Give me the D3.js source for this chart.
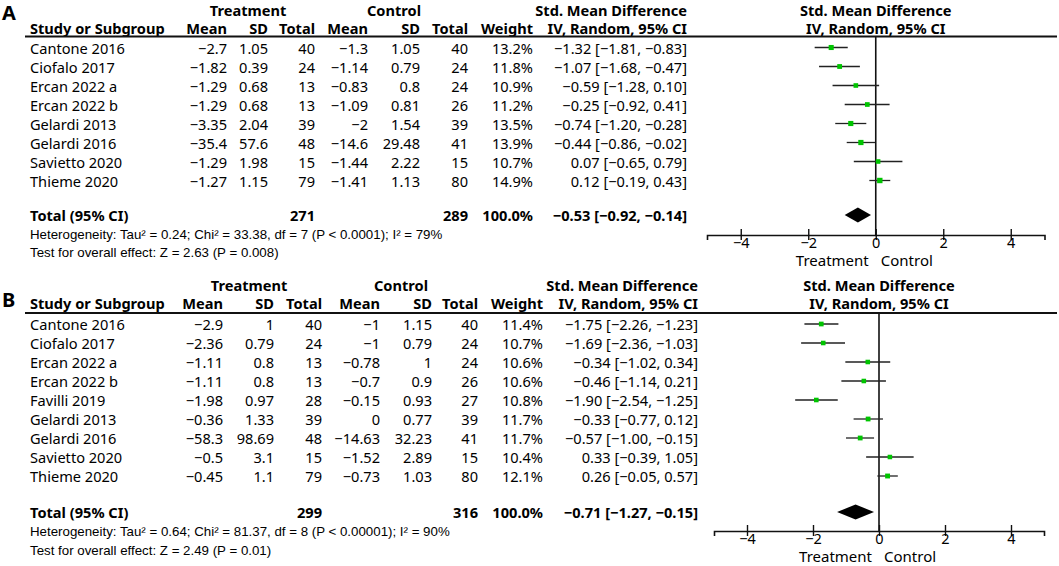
<!DOCTYPE html>
<html>
<head>
<meta charset="utf-8">
<script src="https://cdn.jsdelivr.net/npm/d3@7"></script>
<style>
  body { margin: 0; background: #fff; }
  text { font-family: "Noto Sans", "DejaVu Sans", sans-serif; fill: #000; }
  .note { font-family: "Liberation Sans", Arial, sans-serif; }
</style>
</head>
<body>
<div id="forest"></div>
<script>
// Panel A data
const studiesA = ["Cantone 2016", "Ciofalo 2017", "Ercan 2022 a", "Ercan 2022 b", "Gelardi 2013", "Gelardi 2016", "Savietto 2020", "Thieme 2020"];
const tMeanA = [-2.7, -1.82, -1.29, -1.29, -3.35, -35.4, -1.29, -1.27];
const tSdA = [1.05, 0.39, 0.68, 0.68, 2.04, 57.6, 1.98, 1.15];
const tNA = [40, 24, 13, 13, 39, 48, 15, 79];
const cMeanA = [-1.3, -1.14, -0.83, -1.09, -2, -14.6, -1.44, -1.41];
const cSdA = [1.05, 0.79, 0.8, 0.81, 1.54, 29.48, 2.22, 1.13];
const cNA = [40, 24, 24, 26, 39, 41, 15, 80];
const weightA = [13.2, 11.8, 10.9, 11.2, 13.5, 13.9, 10.7, 14.9];
const smdA = [-1.32, -1.07, -0.59, -0.25, -0.74, -0.44, 0.07, 0.12];
const loA = [-1.81, -1.68, -1.28, -0.92, -1.20, -0.86, -0.65, -0.19];
const hiA = [-0.83, -0.47, 0.10, 0.41, -0.28, -0.02, 0.79, 0.43];
const totalNA = [271, 289];
const totalCiA = [-0.53, -0.92, -0.14];
const hetA = "Heterogeneity: Tau² = 0.24; Chi² = 33.38, df = 7 (P < 0.0001); I² = 79%";
const testA = "Test for overall effect: Z = 2.63 (P = 0.008)";

// Panel B data
const studiesB = ["Cantone 2016", "Ciofalo 2017", "Ercan 2022 a", "Ercan 2022 b", "Favilli 2019", "Gelardi 2013", "Gelardi 2016", "Savietto 2020", "Thieme 2020"];
const tMeanB = [-2.9, -2.36, -1.11, -1.11, -1.98, -0.36, -58.3, -0.5, -0.45];
const tSdB = [1, 0.79, 0.8, 0.8, 0.97, 1.33, 98.69, 3.1, 1.1];
const tNB = [40, 24, 13, 13, 28, 39, 48, 15, 79];
const cMeanB = [-1, -1, -0.78, -0.7, -0.15, 0, -14.63, -1.52, -0.73];
const cSdB = [1.15, 0.79, 1, 0.9, 0.93, 0.77, 32.23, 2.89, 1.03];
const cNB = [40, 24, 24, 26, 27, 39, 41, 15, 80];
const weightB = [11.4, 10.7, 10.6, 10.6, 10.8, 11.7, 11.7, 10.4, 12.1];
const smdB = [-1.75, -1.69, -0.34, -0.46, -1.90, -0.33, -0.57, 0.33, 0.26];
const loB = [-2.26, -2.36, -1.02, -1.14, -2.54, -0.77, -1.00, -0.39, -0.05];
const hiB = [-1.23, -1.03, 0.34, 0.21, -1.25, 0.12, -0.15, 1.05, 0.57];
const totalNB = [299, 316];
const totalCiB = [-0.71, -1.27, -0.15];
const hetB = "Heterogeneity: Tau² = 0.64; Chi² = 81.37, df = 8 (P < 0.00001); I² = 90%";
const testB = "Test for overall effect: Z = 2.49 (P = 0.01)";

const axisTicks = [-4, -2, 0, 2, 4];
const xDomain = [-5, 5];

const width = 1059;
const height = 566;
const fs = 14.6; // table font size

const svg = d3.select("#forest")
  .append("svg")
  .attr("width", width)
  .attr("height", height);

const fmtNum = d3.format("");
const fmt2 = d3.format(".2f");
const fmtW = d3.format(".1f");

function drawPanel(p) {
  const g = svg.append("g");
  const n = p.studies.length;
  const c = p.cols;

  const x = d3.scaleLinear().domain(xDomain).range(p.plotRange);
  const y = d3.scaleLinear().domain([0, n - 1]).range([p.rowY0, p.rowY0 + p.rowStep * (n - 1)]);

  // panel letter
  g.append("text")
    .attr("x", 2).attr("y", p.letterY)
    .attr("font-family", "Liberation Sans, Arial, sans-serif")
    .attr("font-size", 20).attr("font-weight", "bold")
    .text(p.letter);

  // group headers
  const head = g.append("g").attr("font-weight", "bold").attr("font-size", fs);
  head.append("text").attr("x", p.treatX).attr("y", p.groupY).attr("text-anchor", "middle").text("Treatment");
  head.append("text").attr("x", p.ctrlX).attr("y", p.groupY).attr("text-anchor", "middle").text("Control");
  head.append("text").attr("x", c[7]).attr("y", p.groupY).attr("text-anchor", "end").text("Std. Mean Difference");
  head.append("text").attr("x", x(0)).attr("y", p.groupY).attr("text-anchor", "middle").text("Std. Mean Difference");

  head.append("text").attr("x", 30).attr("y", p.headY).text("Study or Subgroup");
  const colHeads = ["Mean", "SD", "Total", "Mean", "SD", "Total", "Weight", "IV, Random, 95% CI"];
  colHeads.forEach((h, i) => {
    head.append("text").attr("x", c[i]).attr("y", p.headY).attr("text-anchor", "end").text(h);
  });
  head.append("text").attr("x", x(0)).attr("y", p.headY).attr("text-anchor", "middle").text("IV, Random, 95% CI");

  g.append("line")
    .attr("x1", 25).attr("x2", 1057)
    .attr("y1", p.lineY).attr("y2", p.lineY)
    .attr("stroke", "#111").attr("stroke-width", 1.8);

  // study rows
  const rows = g.append("g").attr("font-size", fs);
  for (let i = 0; i < n; i++) {
    const yy = y(i) + 6;
    rows.append("text").attr("x", 30).attr("y", yy).text(p.studies[i]);
    const vals = [fmtNum(p.tMean[i]), fmtNum(p.tSd[i]), p.tN[i],
                  fmtNum(p.cMean[i]), fmtNum(p.cSd[i]), p.cN[i],
                  fmtW(p.weight[i]) + "%",
                  fmt2(p.smd[i]) + " [" + fmt2(p.lo[i]) + ", " + fmt2(p.hi[i]) + "]"];
    vals.forEach((v, k) => {
      rows.append("text").attr("x", c[k]).attr("y", yy).attr("text-anchor", "end").text(v);
    });
  }

  // total row
  const tot = g.append("g").attr("font-size", fs).attr("font-weight", "bold");
  const tY = p.totalY + 5.5;
  tot.append("text").attr("x", 30).attr("y", tY).text("Total (95% CI)");
  tot.append("text").attr("x", c[2]).attr("y", tY).attr("text-anchor", "end").text(p.totalN[0]);
  tot.append("text").attr("x", c[5]).attr("y", tY).attr("text-anchor", "end").text(p.totalN[1]);
  tot.append("text").attr("x", c[6]).attr("y", tY).attr("text-anchor", "end").text("100.0%");
  tot.append("text").attr("x", c[7]).attr("y", tY).attr("text-anchor", "end")
    .text(fmt2(p.totalCi[0]) + " [" + fmt2(p.totalCi[1]) + ", " + fmt2(p.totalCi[2]) + "]");

  g.append("text").attr("class", "note").attr("x", 30).attr("y", p.hetY + 5).attr("font-size", 13.3).text(p.het);
  g.append("text").attr("class", "note").attr("x", 30).attr("y", p.testY + 5).attr("font-size", 13.3).text(p.test);

  // plot: zero line
  g.append("line")
    .attr("x1", x(0)).attr("x2", x(0))
    .attr("y1", p.lineY).attr("y2", p.axisY)
    .attr("stroke", "#111").attr("stroke-width", 1.6);

  // CI lines and squares
  const ci = g.append("g");
  ci.selectAll("line")
    .data(d3.range(n))
    .enter()
    .append("line")
      .attr("x1", i => x(p.lo[i]))
      .attr("x2", i => x(p.hi[i]))
      .attr("y1", i => y(i))
      .attr("y2", i => y(i))
      .attr("stroke", "#222")
      .attr("stroke-width", 1.3);

  ci.selectAll("rect")
    .data(d3.range(n))
    .enter()
    .append("rect")
      .attr("x", i => x(p.smd[i]) - Math.sqrt(p.weight[i]) * 0.7)
      .attr("y", i => y(i) - Math.sqrt(p.weight[i]) * 0.7)
      .attr("width", i => Math.sqrt(p.weight[i]) * 1.4)
      .attr("height", i => Math.sqrt(p.weight[i]) * 1.4)
      .attr("fill", "#00c400");

  // diamond
  const ty = p.totalY;
  g.append("path")
    .attr("d", d3.line()([
      [x(p.totalCi[1]), ty],
      [x(p.totalCi[0]), ty - 7.5],
      [x(p.totalCi[2]), ty],
      [x(p.totalCi[0]), ty + 7.5]
    ]) + "Z")
    .attr("fill", "#000");

  // axis
  const ax = g.append("g")
    .attr("transform", `translate(0, ${p.axisY})`)
    .call(d3.axisBottom(x).tickValues(axisTicks).tickSizeOuter(0).tickSize(5));
  ax.select(".domain").attr("stroke", "#111").attr("stroke-width", 1.6);
  ax.selectAll(".tick line").attr("y1", -6).attr("y2", 5).attr("stroke", "#111").attr("stroke-width", 1.4);
  ax.selectAll(".tick text")
    .attr("y", 13).attr("dy", 0)
    .attr("font-size", 14.5)
    .attr("font-family", "Liberation Sans, Arial, sans-serif")
    .attr("fill", "#000");

  const lab = g.append("g")
    .attr("font-family", "Liberation Sans, Arial, sans-serif")
    .attr("font-size", 15);
  lab.append("text").attr("x", x(0) - 7).attr("y", p.axisY + 31).attr("text-anchor", "end").text("Treatment");
  lab.append("text").attr("x", x(0) + 5).attr("y", p.axisY + 31).text("Control");
}

drawPanel({
  letter: "A", letterY: 20,
  studies: studiesA, tMean: tMeanA, tSd: tSdA, tN: tNA,
  cMean: cMeanA, cSd: cSdA, cN: cNA, weight: weightA,
  smd: smdA, lo: loA, hi: hiA, totalN: totalNA, totalCi: totalCiA,
  het: hetA, test: testA,
  groupY: 15.6, headY: 33.6, lineY: 36.5,
  rowY0: 47.5, rowStep: 19,
  totalY: 215, hetY: 234, testY: 252,
  cols: [227, 268, 315, 368, 420, 468, 533, 687],
  treatX: 248, ctrlX: 394,
  plotRange: [707, 1044.5], axisY: 235
});

drawPanel({
  letter: "B", letterY: 307,
  studies: studiesB, tMean: tMeanB, tSd: tSdB, tN: tNB,
  cMean: cMeanB, cSd: cSdB, cN: cNB, weight: weightB,
  smd: smdB, lo: loB, hi: hiB, totalN: totalNB, totalCi: totalCiB,
  het: hetB, test: testB,
  groupY: 291, headY: 309, lineY: 313,
  rowY0: 324, rowStep: 19,
  totalY: 512, hetY: 531, testY: 550,
  cols: [223, 274, 322, 380, 432, 478, 543, 698],
  treatX: 249, ctrlX: 401,
  plotRange: [714, 1044], axisY: 531
});
</script>
</body>
</html>
